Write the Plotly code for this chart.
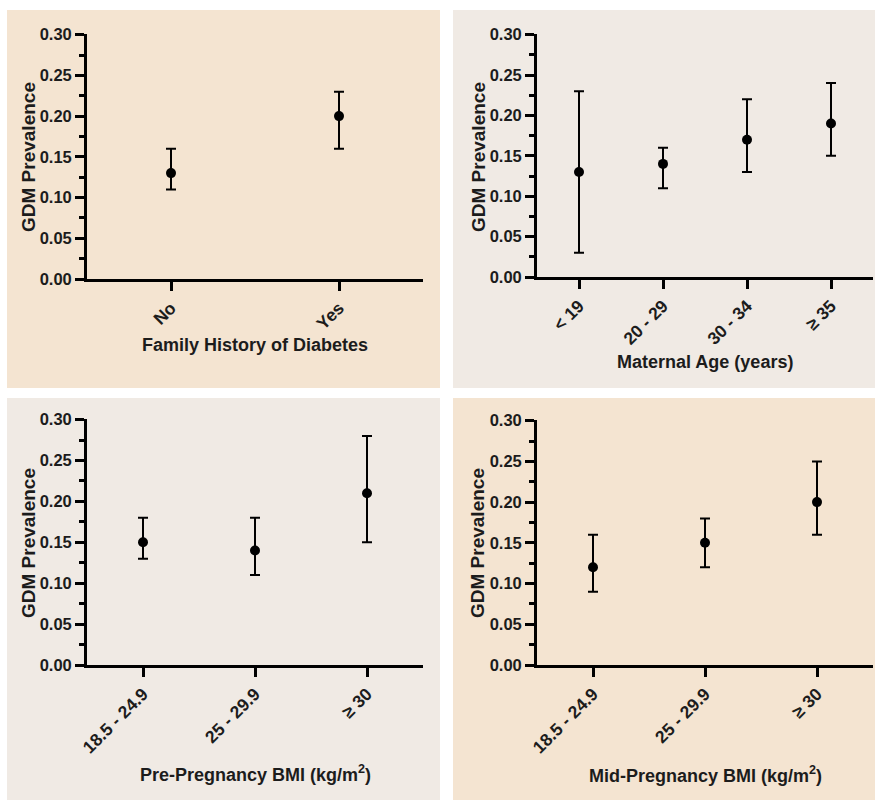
import plotly.graph_objects as go

# ---- data ----
fam_cats = ["No", "Yes"]
fam_vals = [0.13, 0.20]
fam_lo = [0.11, 0.16]
fam_hi = [0.16, 0.23]

age_cats = ["< 19", "20 - 29", "30 - 34", "≥ 35"]
age_vals = [0.13, 0.14, 0.17, 0.19]
age_lo = [0.03, 0.11, 0.13, 0.15]
age_hi = [0.23, 0.16, 0.22, 0.24]

pre_cats = ["18.5 - 24.9", "25 - 29.9", "≥ 30"]
pre_vals = [0.15, 0.14, 0.21]
pre_lo = [0.13, 0.11, 0.15]
pre_hi = [0.18, 0.18, 0.28]

mid_cats = ["18.5 - 24.9", "25 - 29.9", "≥ 30"]
mid_vals = [0.12, 0.15, 0.20]
mid_lo = [0.09, 0.12, 0.16]
mid_hi = [0.16, 0.18, 0.25]

x_titles = ["Family History of Diabetes", "Maternal Age (years)",
            "Pre-Pregnancy BMI (kg/m<sup>2</sup>)", "Mid-Pregnancy BMI (kg/m<sup>2</sup>)"]
y_title = "GDM Prevalence"
y_ticks = [0.0, 0.05, 0.10, 0.15, 0.20, 0.25, 0.30]

W, H = 875, 800
PEACH = "rgb(244,228,209)"
GREY = "rgb(240,234,228)"
FONT = "Liberation Sans, Arial, sans-serif"
TXT = "#1c1c1c"

panels = [
    dict(cats=fam_cats, vals=fam_vals, lo=fam_lo, hi=fam_hi, bg=PEACH,
         box=(7, 10, 440, 388), ax=(87, 423), ay=(279, 34),
         xt=(255, 345), yt=(28, 157)),
    dict(cats=age_cats, vals=age_vals, lo=age_lo, hi=age_hi, bg=GREY,
         box=(453, 10, 875, 388), ax=(537, 873), ay=(277, 34),
         xt=(705, 362), yt=(478, 157)),
    dict(cats=pre_cats, vals=pre_vals, lo=pre_lo, hi=pre_hi, bg=GREY,
         box=(7, 398, 440, 800), ax=(87, 423), ay=(665, 419),
         xt=(255, 773), yt=(28, 543)),
    dict(cats=mid_cats, vals=mid_vals, lo=mid_lo, hi=mid_hi, bg=PEACH,
         box=(453, 398, 875, 800), ax=(537, 873), ay=(665, 420),
         xt=(705, 774), yt=(477, 543)),
]

fig = go.Figure()
layout = {}
shapes = []
annotations = []

for i, p in enumerate(panels):
    n = i + 1
    xa = "x" if n == 1 else f"x{n}"
    ya = "y" if n == 1 else f"y{n}"
    up = [h - v for h, v in zip(p["hi"], p["vals"])]
    dn = [v - l for v, l in zip(p["vals"], p["lo"])]
    fig.add_trace(go.Scatter(
        x=p["cats"], y=p["vals"], mode="markers", xaxis=xa, yaxis=ya,
        marker=dict(color="black", size=10),
        error_y=dict(type="data", symmetric=False, array=up, arrayminus=dn,
                     color="black", thickness=2, width=5),
        showlegend=False, hoverinfo="x+y"))

    x0, x1 = p["ax"]
    yb, yt = p["ay"]
    layout["xaxis" if n == 1 else f"xaxis{n}"] = dict(
        domain=[x0 / W, x1 / W], anchor=ya, type="category",
        range=[-0.5, len(p["cats"]) - 0.5], automargin=False,
        showline=True, linecolor="black", linewidth=2.8,
        ticks="outside", ticklen=9, tickwidth=2.5, tickcolor="black",
        tickangle=-45, showgrid=False, zeroline=False,
        tickfont=dict(family=FONT, size=17.5, color=TXT, weight="bold"))
    layout["yaxis" if n == 1 else f"yaxis{n}"] = dict(
        domain=[1 - yb / H, 1 - yt / H], anchor=xa, automargin=False,
        range=[0, 0.3008], tickvals=y_ticks, tickformat=".2f",
        showline=True, linecolor="black", linewidth=2.8,
        ticks="outside", ticklen=9, tickwidth=2.5, tickcolor="black",
        minor=dict(dtick=0.025, tick0=0, ticks="outside", ticklen=5,
                   tickwidth=2.5, tickcolor="black", showgrid=False),
        showgrid=False, zeroline=False,
        tickfont=dict(family=FONT, size=16.5, color=TXT, weight="bold"))

    bx0, by0, bx1, by1 = p["box"]
    shapes.append(dict(type="rect", xref="paper", yref="paper", layer="below",
                       x0=bx0 / W, x1=bx1 / W, y0=1 - by1 / H, y1=1 - by0 / H,
                       fillcolor=p["bg"], line=dict(width=0)))

    annotations.append(dict(text=x_titles[i], xref="paper", yref="paper",
                            x=p["xt"][0] / W, y=1 - p["xt"][1] / H,
                            xanchor="center", yanchor="middle", showarrow=False,
                            font=dict(family=FONT, size=18, color=TXT, weight="bold")))
    annotations.append(dict(text=y_title, xref="paper", yref="paper",
                            x=p["yt"][0] / W, y=1 - p["yt"][1] / H, textangle=-90,
                            xanchor="center", yanchor="middle", showarrow=False,
                            font=dict(family=FONT, size=19, color=TXT, weight="bold")))

fig.update_layout(**layout)
fig.update_layout(template="none", width=W, height=H, autosize=False,
                  margin=dict(l=0, r=0, t=0, b=0, pad=0),
                  paper_bgcolor="white", plot_bgcolor="rgba(0,0,0,0)",
                  shapes=shapes, annotations=annotations)

fig.write_html("out.html", config={"displayModeBar": False},
               post_script="document.body.style.margin='0';document.body.style.overflow='hidden';")
